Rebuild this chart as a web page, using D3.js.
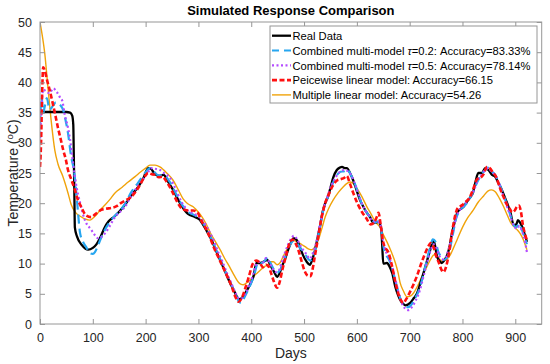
<!DOCTYPE html>
<html>
<head>
<meta charset="utf-8">
<script src="https://cdn.jsdelivr.net/npm/d3@7"></script>
<style>
  body { margin: 0; background: #fff; }
  svg { display: block; font-family: "Liberation Sans", Arial, sans-serif; }
</style>
</head>
<body>
<div class="chart"></div>
<script>
// --- Data ---
const realDays = [0,10,30,50,57,61,63,64,65,66,70,80,91,100,106,115,122,130,141,152,163,175,186,195,205,210,216,225,234,243,252,265,278,285,294,302,309,317,325,333,341,350,360,367,373,378,385,392,398,404,410,417,423,430,439,444,449,454,458,465,470,476,480,485,489,494,498,505,511,516,521,525,530,535,540,545,549,555,562,568,572,577,581,587,593,600,606,613,619,625,631,636,641,646,648,650,657,662,667,673,678,682,687,692,701,708,714,720,726,733,739,745,748,752,757,761,766,771,776,780,785,790,796,802,808,815,820,824,830,837,843,849,856,862,867,872,881,891,897,902,905,909,913,918,922];
const realTemp = [35,35.1,35.1,35.1,35,34.5,33,28,22,16,14.5,13,12.3,12.6,13.1,14.5,15.9,17,17.8,18.8,20,21.5,22.7,24,25.8,25.7,25,24.5,24.7,23.5,22.2,20,18.4,18,17.7,17.3,16.4,15.2,13.9,12.2,10.6,8.8,6.8,5.6,4.5,4.1,4.6,5.6,6.6,7.8,10.1,10.1,10.3,10.6,9.3,8.5,7.8,8.5,9.5,11,12.3,13.6,14.2,14,13.4,12.3,11.4,10.3,9.8,10.8,12.3,14,16.1,18.5,20,21,22.2,24.2,25.5,25.9,26,25.8,25.8,25,23.8,22,20.5,19.3,18.4,17.7,16.8,16.8,16.9,15.8,13,10,10.1,9.5,8.4,6.1,4.8,4,3.4,3.1,3.5,4.3,5.1,6.7,8.4,10.5,12.3,13.9,13,11.1,10.4,10.1,10.6,11.4,13,15,16.8,18.4,19,19.4,20.2,21,21.8,23.3,25,25,25.8,25.5,24.7,24.4,23.5,22.7,20.8,18.4,16.4,16.5,17.2,16.8,16.1,14.8,13.6];

const tau02Days = [0,3,6,9,13,18,25,30,38,44,49,53,59,65,70,76,82,87,95,100,104,109,114,123,135,145,153,163,172,185,199,208,215,225,235,245,255,267,280,295,303,311,320,328,336,344,353,362,370,376,381,387,394,400,407,413,420,426,431,437,443,449,455,461,467,473,480,486,492,500,506,512,518,524,530,537,545,553,561,569,576,582,588,595,603,611,620,628,635,640,645,650,655,660,666,672,678,684,690,697,703,710,717,724,731,738,744,749,754,759,764,769,775,781,788,795,803,812,820,828,835,842,848,854,861,867,874,882,890,896,902,907,912,917,922];
const tau02Temp = [33,37.5,35,36,37.4,35.5,36.2,36.7,36.3,35.4,33.5,31.6,27.7,25,20.5,15,13.5,12.8,11.7,11.6,11.9,12.8,13.9,15.6,17.2,18.2,18.9,20.2,21.7,23.3,25,25.8,25.3,24.6,24.6,23.6,22,20,18.6,17.9,17.4,16.4,14.9,13.5,11.7,10.2,8.3,6.6,5,3.8,3.5,4.4,5.6,6.8,8.6,10.2,10.1,10.5,11,10,9,8.5,9,10.2,11.8,13,13.8,13.6,12.6,12,11,10.5,11.2,13.5,16,19,21,23,24.5,25.2,25.3,25.6,24.8,23.5,21.5,19.5,18.3,17.3,16.8,17,16.3,13,11.5,10.8,9.5,7.5,5.5,3.8,3,2.8,3.2,4.2,5.5,7.5,10,12.5,14,13.6,12,11.2,10.6,10.8,12,14.5,17.5,18.8,19.5,20.5,21.8,23.5,24.6,25.4,25.9,25.3,24.8,23.8,22.3,20.3,18.2,16.5,16,16.6,15.7,14.5,13.2];

const tau05Days = [0,3,6,12,18,25,32,38,42,47,53,57,62,68,76,85,97,104,110,116,123,132,142,152,161,170,180,190,199,205,210,218,227,236,246,256,268,280,293,303,311,320,329,337,346,355,364,371,377,383,390,397,404,410,416,422,428,433,439,445,451,457,463,469,476,481,487,493,499,505,511,517,523,529,536,544,552,560,568,576,583,590,598,607,615,623,631,638,644,649,655,661,667,673,679,685,691,698,705,712,719,726,733,740,746,751,756,762,768,774,781,788,796,804,813,821,829,836,843,849,855,862,868,875,883,891,897,903,908,913,918,922];
const tau05Temp = [30,36,38.8,38.5,38.2,39,38.4,37.5,37,34.6,32.5,30.5,27,23.3,20,17.2,15.6,14.7,14.2,14.4,15,16.2,17.7,18.6,19.4,20.8,22.2,23.4,24.4,25.2,25.8,25.7,25.5,24.9,24.2,22.5,20.2,18.8,18.2,17.6,16.8,15.4,13.8,12,10.2,8.2,6.4,5,4.2,4.3,5.2,6.6,8.3,10,10.3,10.2,10.9,10.4,9.4,8.6,8.7,10,11.6,13,14.2,14.6,14,13,12.2,11.5,10.8,11.8,13.5,16,18.8,21,23,24.3,25.2,25.5,25.3,24.5,22.8,20.5,19,17.9,17,17,16.5,14,12,11,9.5,7.3,5.2,3.5,2.6,2.3,2.9,4,5.5,7.8,10.2,12.3,13.2,12.5,11.3,10.7,11,12.5,15,17.6,19,19.8,20.8,22,23.8,24.7,25.5,25.8,25.2,24.6,23.5,21.8,19.8,17.8,16.3,15.8,16.2,15.3,13.8,11.9];

const pwlDays = [0,2,4,6,9,13,19,25,28,34,40,44,49,53,59,66,72,78,87,97,105,116,126,135,145,153,163,172,182,191,198,205,212,218,225,232,240,250,260,270,280,290,298,305,313,321,330,338,346,355,363,370,376,382,389,396,403,410,417,422,428,433,438,443,449,454,459,465,471,478,483,489,495,501,507,512,516,520,526,533,540,547,555,563,570,576,581,587,594,602,610,618,626,633,638,641,645,650,655,660,666,672,678,683,688,694,700,707,714,721,728,735,740,745,750,755,760,764,769,774,779,785,791,798,806,814,821,828,834,840,846,852,858,863,868,873,878,884,890,894,899,903,907,910,915,918,922];
const pwlTemp = [26,30,38,42.5,42,40.5,38.5,36.2,35,32.5,30.3,28.8,27.2,25.5,24,22.2,20.5,19.4,18,17.7,18.2,18.9,19.1,19.2,19.5,20,20.5,21,22,23.3,24.4,25,24.8,24.7,24.3,24.4,23.5,22,20.2,19,18.8,18.8,18.5,17.2,16,14.5,12.5,11,9.5,7.8,6.2,4.5,3.7,4.3,6,8,10,10.5,10,9.4,9.8,9.5,8.3,7,6,7,9,11,13,14,13.5,12.3,10.5,8.8,8,7.9,9,11,14,17.5,20,21.5,23,23.8,24,24.2,24.5,23.2,21.5,19.8,18.5,17.5,16.5,16.8,17.8,18.4,16.5,13.5,12.5,11.8,9.8,7.3,5.2,4,3.5,4.2,5.2,6.5,8,9.8,11.4,12.8,13.4,12.8,11.3,10.2,9,8.6,9.5,11.5,14.5,17.5,19.2,19.6,20.2,21,22.5,24,24.2,24.8,26,25.8,25,24.5,23.3,22,21,19.8,19,18.5,18.8,19.4,19.6,18.9,16.1,15,13.9];

const mlrDays = [0,2,9,15,21,28,34,43,53,59,68,77,85,94,100,106,115,123,132,142,155,167,180,191,200,208,218,227,240,252,262,271,280,290,300,307,315,322,331,341,350,360,368,375,380,385,391,398,408,417,425,432,436,442,449,455,460,467,474,480,487,495,502,509,515,521,527,533,540,547,555,565,574,580,587,594,600,610,619,627,635,644,650,657,665,673,678,682,688,695,701,707,715,723,731,739,745,750,756,762,770,776,783,790,800,810,820,830,840,848,855,862,870,878,885,891,900,909,915,922];
const mlrTemp = [50,49,44.8,39.2,33.8,28.8,26.5,24.5,21.7,19.8,18.4,17.8,17.4,17.2,17.5,18,19,19.7,20.6,21.7,22.6,23.5,24.4,25.2,25.8,26.3,26.3,26,25,23.8,22.2,20.7,19.9,19.4,18.5,17.7,16.5,15.2,13.8,12.3,10.8,9.3,8,7,6.6,6.5,6.8,7.3,8.2,8.9,9.5,9.8,10.3,10.3,9.8,10.2,11.1,12.3,13.4,13.8,13.6,13.2,12.8,12.4,12.3,12.8,13.9,15.6,17.7,19.2,20.5,21.8,22.7,23.2,23.5,23.2,22.5,21,19.4,18.2,16.9,16,14.8,13.6,12,10.1,8.5,6.8,5.5,4.5,4.6,5.1,6.3,7.8,9.2,10.6,11.4,11.5,10.8,10.4,10.7,11.3,12.6,14,16,17.6,18.8,20.2,21.2,22,22.2,21.9,20.8,19.4,18,16.8,15.9,15,14,12.3];

const xTicks = [0,100,200,300,400,500,600,700,800,900];
const yTicks = [0,5,10,15,20,25,30,35,40,45,50];

// --- Chart layout ---
const W = 550, H = 364;
const margin = {left: 40, top: 22, right: 8.3, bottom: 40};
const plotW = W - margin.left - margin.right;
const plotH = H - margin.top - margin.bottom;
const axisGray = "#969696";
const textDark = "#262626";

const x = d3.scaleLinear().domain([0, 950]).range([0, plotW]);
const y = d3.scaleLinear().domain([0, 50]).range([plotH, 0]);

const svg = d3.select(".chart").append("svg")
    .attr("width", W)
    .attr("height", H);

const g = svg.append("g")
    .attr("transform", `translate(${margin.left},${margin.top})`);

// clip so curves stay inside the box
g.append("clipPath").attr("id", "clip")
    .append("rect").attr("width", plotW).attr("height", plotH);

// --- Series ---
const series = [
    {name: "mlr",   days: mlrDays,   temp: mlrTemp,   color: "#f0a30a", width: 1.4, dash: null},
    {name: "real",  days: realDays,  temp: realTemp,  color: "#000000", width: 2.3, dash: null},
    {name: "tau02", days: tau02Days, temp: tau02Temp, color: "#26a6f0", width: 2.2, dash: "9,5"},
    {name: "tau05", days: tau05Days, temp: tau05Temp, color: "#b44cff", width: 2.2, dash: "2,2.5"},
    {name: "pwl",   days: pwlDays,   temp: pwlTemp,   color: "#ff1010", width: 2.6, dash: "5,2.5"}
];

const line = d3.line()
    .x(d => x(d[0]))
    .y(d => y(d[1]))
    .curve(d3.curveMonotoneX);

const lines = g.append("g").attr("clip-path", "url(#clip)");
series.forEach(s => {
    lines.append("path")
        .datum(d3.zip(s.days, s.temp))
        .attr("d", line)
        .attr("fill", "none")
        .attr("stroke", s.color)
        .attr("stroke-width", s.width)
        .attr("stroke-dasharray", s.dash)
        .attr("stroke-linejoin", "round");
});

// --- Axes (MATLAB style box with inward ticks) ---
const styleAxis = sel => {
    sel.select(".domain").remove();
    sel.selectAll(".tick line").attr("stroke", axisGray);
    sel.selectAll(".tick text")
        .attr("fill", textDark)
        .style("font-size", "12.5px")
        .style("font-family", "Liberation Sans, Arial, sans-serif");
};

g.append("g")
    .attr("transform", `translate(0,${plotH})`)
    .call(d3.axisBottom(x).tickValues(xTicks).tickSizeInner(-5).tickSizeOuter(0).tickPadding(9))
    .call(styleAxis);

g.append("g")
    .call(d3.axisTop(x).tickValues(xTicks).tickSizeInner(-5).tickSizeOuter(0).tickFormat(""))
    .call(styleAxis);

g.append("g")
    .call(d3.axisLeft(y).tickValues(yTicks).tickSizeInner(-5).tickSizeOuter(0).tickPadding(8))
    .call(styleAxis);

g.append("g")
    .attr("transform", `translate(${plotW},0)`)
    .call(d3.axisRight(y).tickValues(yTicks).tickSizeInner(-5).tickSizeOuter(0).tickFormat(""))
    .call(styleAxis);

g.append("rect")
    .attr("width", plotW)
    .attr("height", plotH)
    .attr("fill", "none")
    .attr("stroke", axisGray)
    .attr("stroke-width", 1);

// --- Title and axis labels ---
svg.append("text")
    .attr("x", margin.left + plotW / 2)
    .attr("y", 15)
    .attr("text-anchor", "middle")
    .attr("fill", "#000")
    .style("font-size", "13px")
    .style("font-weight", "bold")
    .text("Simulated Response Comparison");

svg.append("text")
    .attr("x", margin.left + plotW / 2)
    .attr("y", 358)
    .attr("text-anchor", "middle")
    .attr("fill", textDark)
    .style("font-size", "14px")
    .text("Days");

const yLab = svg.append("text")
    .attr("transform", `translate(18,${margin.top + plotH / 2}) rotate(-90)`)
    .attr("text-anchor", "middle")
    .attr("fill", textDark)
    .style("font-size", "14px");
yLab.append("tspan").text("Temperature (");
yLab.append("tspan").attr("dy", -5).style("font-size", "9.5px").text("o");
yLab.append("tspan").attr("dy", 5).text("C)");

// --- Legend ---
const legend = svg.append("g").attr("transform", "translate(270,26)");
legend.append("rect")
    .attr("width", 267)
    .attr("height", 77)
    .attr("fill", "#fff")
    .attr("stroke", axisGray);

const legendItems = [
    {s: series[1], parts: [["Real Data", false]]},
    {s: series[2], parts: [["Combined multi-model ", false], ["τ", true], ["=0.2: Accuracy=83.33%", false]]},
    {s: series[3], parts: [["Combined multi-model ", false], ["τ", true], ["=0.5: Accuracy=78.14%", false]]},
    {s: series[4], parts: [["Peicewise linear model: Accuracy=66.15", false]]},
    {s: series[0], parts: [["Multiple linear model: Accuracy=54.26", false]]}
];

legendItems.forEach((it, i) => {
    const row = legend.append("g").attr("transform", `translate(0,${9.7 + i * 14.8})`);
    row.append("line")
        .attr("x1", 2).attr("x2", 21)
        .attr("stroke", it.s.color)
        .attr("stroke-width", it.s.width)
        .attr("stroke-dasharray", it.s.name === "tau02" ? "7,5" : it.s.dash);
    const t = row.append("text")
        .attr("x", 22.5)
        .attr("y", 4.2)
        .attr("fill", "#000")
        .style("font-size", "11.2px");
    it.parts.forEach(p => {
        t.append("tspan").style("font-style", p[1] ? "italic" : "normal").text(p[0]);
    });
});
</script>
</body>
</html>
